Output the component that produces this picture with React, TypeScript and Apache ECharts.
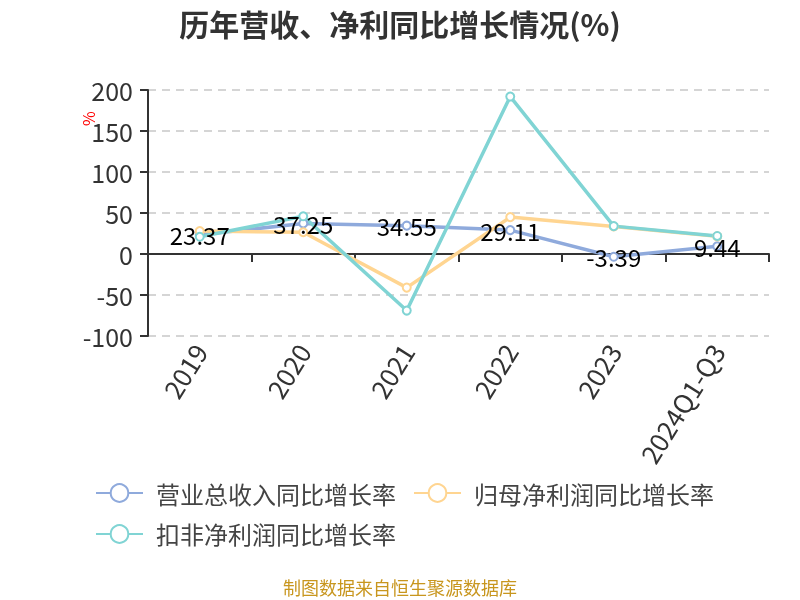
import React, { useEffect, useRef } from "react";
import * as echarts from "echarts";

const categories = ["2019", "2020", "2021", "2022", "2023", "2024Q1-Q3"];
const revenueGrowth = [23.37, 37.25, 34.55, 29.11, -3.39, 9.44];
const netProfitGrowth = [28, 26.5, -41, 45, 33.5, 21.5];
const deductedProfitGrowth = [21, 46, -69, 192, 34, 22];
const seriesNames = ["营业总收入同比增长率", "归母净利润同比增长率", "扣非净利润同比增长率"];
const colors = ["#8FAADC", "#FFD591", "#80D4D4"];

export default function App() {
  const ref = useRef<HTMLDivElement>(null);
  useEffect(() => {
    if (!ref.current) return;
    const chart = echarts.init(ref.current, undefined, { renderer: "svg" });
    const font = "'Microsoft YaHei', 'Noto Sans CJK SC', sans-serif";
    const mk = (name: string, data: number[], color: string, label: boolean) => ({
      name,
      type: "line",
      data,
      symbol: "emptyCircle",
      symbolSize: 8,
      lineStyle: { width: 3.5, color },
      itemStyle: { color },
      label: label
        ? { show: true, position: "inside", fontSize: 24, color: "#000", fontFamily: font }
        : { show: false },
    });
    chart.setOption({
      animation: false,
      textStyle: { fontFamily: font },
      title: {
        text: "历年营收、净利同比增长情况(%)",
        left: "center",
        top: 3,
        textStyle: { fontSize: 30, fontWeight: "bold", color: "#333", fontFamily: font },
      },
      legend: {
        left: 90,
        top: 476,
        right: 30,
        itemWidth: 47,
        itemHeight: 22,
        itemGap: 17,
        textStyle: { fontSize: 24, color: "#444", fontFamily: font, padding: [0, 0, 0, 8] },
        data: seriesNames,
      },
      grid: { left: 148, right: 31, top: 90, bottom: 264 },
      xAxis: {
        type: "category",
        data: categories,
        axisLine: { lineStyle: { color: "#333", width: 2 } },
        axisTick: { show: true, length: 8, lineStyle: { color: "#333", width: 2 } },
        axisLabel: { rotate: 58, fontSize: 26, color: "#333", margin: 10, fontFamily: font },
      },
      yAxis: {
        type: "value",
        min: -100,
        max: 200,
        interval: 50,
        axisLine: { show: true, lineStyle: { color: "#333", width: 2 } },
        axisTick: { show: true, length: 8, lineStyle: { color: "#333", width: 2 } },
        axisLabel: { fontSize: 25, color: "#333", margin: 15, fontFamily: font },
        splitLine: { show: true, lineStyle: { color: "#c8c8c8", type: [8, 6], width: 1.5 } },
      },
      graphic: [
        {
          type: "text",
          x: 80,
          y: 126,
          rotation: Math.PI / 2,
          style: { text: "%", fontSize: 16, fill: "#ff0000", fontFamily: font },
        },
        {
          type: "text",
          x: 400,
          y: 587,
          style: {
            text: "制图数据来自恒生聚源数据库",
            fontSize: 18,
            fill: "#C8961E",
            fontFamily: font,
            align: "center",
            verticalAlign: "middle",
          },
        },
      ],
      series: [
        mk(seriesNames[0], revenueGrowth, colors[0], true),
        mk(seriesNames[1], netProfitGrowth, colors[1], false),
        mk(seriesNames[2], deductedProfitGrowth, colors[2], false),
      ],
    });
    return () => chart.dispose();
  }, []);
  return (
    <div
      ref={ref}
      style={{ position: "fixed", left: 0, top: 0, width: 800, height: 600, overflow: "hidden" }}
    />
  );
}
